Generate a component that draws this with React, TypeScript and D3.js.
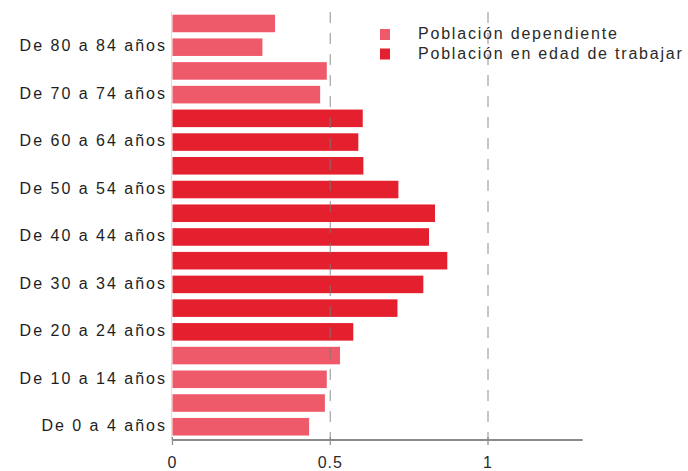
import React from "react";
import * as d3 from "d3";

const categories = [
  "De 0 a 4 años", "De 5 a 9 años", "De 10 a 14 años", "De 15 a 19 años",
  "De 20 a 24 años", "De 25 a 29 años", "De 30 a 34 años", "De 35 a 39 años",
  "De 40 a 44 años", "De 45 a 49 años", "De 50 a 54 años", "De 55 a 59 años",
  "De 60 a 64 años", "De 65 a 69 años", "De 70 a 74 años", "De 75 a 79 años",
  "De 80 a 84 años", "De 85 años y más",
];
const values = [
  0.433, 0.483, 0.489, 0.531, 0.573, 0.713, 0.795, 0.871, 0.813,
  0.832, 0.716, 0.605, 0.589, 0.603, 0.468, 0.489, 0.285, 0.325,
];
const groups = [
  "dep", "dep", "dep", "dep", "work", "work", "work", "work", "work",
  "work", "work", "work", "work", "work", "dep", "dep", "dep", "dep",
];
const legendLabels = ["Población dependiente", "Población en edad de trabajar"];
const legendKeys = ["dep", "work"];
const xTicks = [0, 0.5, 1];
const xTickLabels = ["0", "0.5", "1"];

const W = 688;
const H = 471;
const colors: Record<string, string> = { dep: "#ef5a6a", work: "#e5202e" };
const FONT = "'Liberation Sans', Arial, sans-serif";

export default function App() {
  const x = d3.scaleLinear().domain([0, 1]).range([172.5, 488]);
  const y = d3
    .scaleBand<string>()
    .domain(categories)
    .range([438.6, 11.6])
    .paddingInner(0.26)
    .paddingOuter(0.13);
  const axisY = 440;
  const yTop = 12;

  return (
    <svg
      width={W}
      height={H}
      style={{ position: "absolute", left: 0, top: 0, background: "#fff" }}
      fontFamily={FONT}
    >
      <line x1={x(0) - 1} x2={x(0) - 1} y1={yTop} y2={axisY} stroke="#d6dde0" strokeWidth={1} />
      {categories.map((c, i) => (
        <rect
          key={c}
          x={x(0)}
          y={y(c)}
          width={x(values[i]) - x(0)}
          height={y.bandwidth()}
          fill={colors[groups[i]]}
        />
      ))}
      {[0.5, 1].map((v) => (
        <line
          key={v}
          x1={x(v)}
          x2={x(v)}
          y1={yTop}
          y2={axisY}
          stroke="#7a7a7a"
          strokeOpacity={0.7}
          strokeWidth={1.2}
          strokeDasharray="11,10"
        />
      ))}
      {categories.map((c, i) =>
        i % 2 === 0 ? (
          <text
            key={c}
            x={167}
            y={(y(c) as number) + y.bandwidth() / 2}
            textAnchor="end"
            dominantBaseline="middle"
            fontSize={16}
            letterSpacing={2}
            fill="#1e1e1e"
          >
            {c}
          </text>
        ) : null
      )}
      <line x1={x(0)} x2={x(1.3)} y1={axisY} y2={axisY} stroke="#8a8a8a" strokeWidth={1.8} />
      {xTicks.map((t, i) => (
        <g key={t}>
          <line x1={x(t)} x2={x(t)} y1={axisY - 3} y2={axisY + 5} stroke="#8a8a8a" strokeWidth={1.2} />
          <text
            x={x(t)}
            y={464}
            textAnchor="middle"
            dominantBaseline="middle"
            fontSize={16}
            letterSpacing={1}
            fill="#2a2a2a"
          >
            {xTickLabels[i]}
          </text>
        </g>
      ))}
      {legendKeys.map((k, i) => (
        <g key={k}>
          <rect x={380} y={29 + i * 19.5} width={10} height={11} fill={colors[k]} />
          <text
            x={418}
            y={35 + i * 19.5}
            dominantBaseline="middle"
            fontSize={16}
            letterSpacing={1.8}
            fill="#2a2a2a"
          >
            {legendLabels[i]}
          </text>
        </g>
      ))}
    </svg>
  );
}
